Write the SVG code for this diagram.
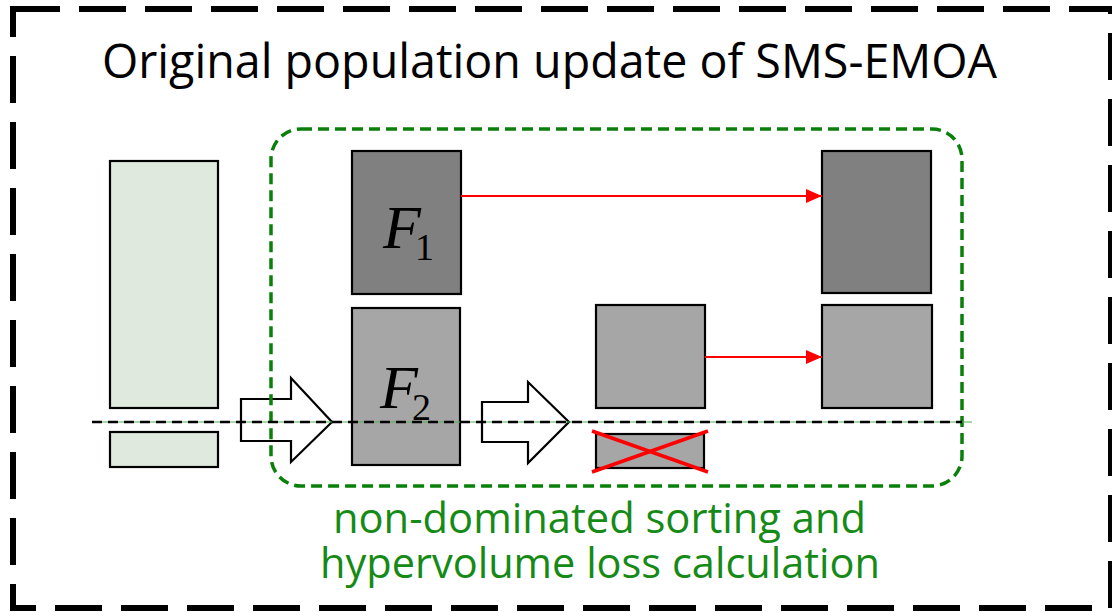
<svg xmlns="http://www.w3.org/2000/svg" width="1112" height="612" viewBox="0 0 1112 612">
<defs>
<style>
.box{stroke:#000;stroke-width:2.2}
.pop{fill:#dfe9dd}
.f1{fill:#808080}
.f2{fill:#a6a6a6}
.blk{fill:#fff;stroke:#000;stroke-width:2.2;stroke-linejoin:miter}
.red{stroke:#ff0000;stroke-width:2.2;fill:none}
.cross{stroke:#ff0000;stroke-width:3.5;fill:none}
.math{font-family:"Liberation Serif","DejaVu Serif",serif;fill:#000}
.txt{font-family:"Open Sans","Noto Sans",sans-serif}
</style>
<marker id="ah" viewBox="0 0 16 14" refX="16" refY="7" markerWidth="16" markerHeight="14" markerUnits="userSpaceOnUse" orient="auto">
<path d="M0,0 L16,7 L0,14 Z" fill="#ff0000"/>
</marker>
</defs>
<rect width="1112" height="612" fill="#fff"/>
<rect id="frame" x="13" y="9" width="1098" height="599" fill="none" stroke="#000" stroke-width="6" stroke-dasharray="47 19"/>
<text id="title" class="txt" x="102" y="78" font-size="47" fill="#000" textLength="895" lengthAdjust="spacingAndGlyphs">Original population update of SMS-EMOA</text>

<g id="population">
<rect class="box pop" x="110" y="161" width="108" height="247"/>
<rect class="box pop" x="110" y="432" width="108" height="35"/>
</g>
<g id="F1">
<rect class="box f1" x="352" y="151" width="109" height="143"/>
<text class="math" x="383" y="248" font-size="62"><tspan font-style="italic">F</tspan><tspan x="415" dy="12" font-size="38">1</tspan></text>
</g>
<g id="F2">
<rect class="box f2" x="352" y="308" width="108" height="157"/>
<text class="math" x="380" y="408" font-size="62"><tspan font-style="italic">F</tspan><tspan x="412" dy="12" font-size="38">2</tspan></text>
</g>
<g id="mid-keep">
<rect class="box f2" x="596" y="305" width="109" height="103"/>
</g>
<g id="mid-removed">
<rect class="box f2" x="596" y="434" width="108" height="34"/>
</g>
<g id="out-F1">
<rect class="box f1" x="822" y="151" width="109" height="142"/>
</g>
<g id="out-F2">
<rect class="box f2" x="822" y="305" width="110" height="103"/>
</g>

<g id="connectors">
<polygon class="blk" points="241,399 291,399 291,378 332,422 291,462 291,441 241,441"/>
<polygon class="blk" points="482,402 528,402 528,382 569,422 528,463 528,442 482,442"/>
<line class="red" x1="461" y1="196" x2="822" y2="196" marker-end="url(#ah)"/>
<line class="red" x1="705" y1="357" x2="822" y2="357" marker-end="url(#ah)"/>
</g>

<g id="group-nds">
<rect x="271" y="129" width="691" height="357" rx="30" ry="30" fill="none" stroke="#0a800a" stroke-width="3.5" stroke-dasharray="11 6"/>
</g>

<g id="cut-line">
<line x1="92" y1="422" x2="972" y2="422" stroke="#4caf50" stroke-width="1.2"/>
<line x1="92" y1="422" x2="962" y2="422" stroke="#000" stroke-width="2.5" stroke-dasharray="10 6"/>
</g>

<g id="remove-mark">
<line class="cross" x1="592" y1="431" x2="708" y2="472"/>
<line class="cross" x1="592" y1="472" x2="708" y2="431"/>
</g>

<g id="caption" class="txt" fill="#168a16" font-size="42">
<text x="333" y="533" textLength="533" lengthAdjust="spacingAndGlyphs">non-dominated sorting and</text>
<text x="320" y="578" textLength="560" lengthAdjust="spacingAndGlyphs">hypervolume loss calculation</text>
</g>
</svg>
